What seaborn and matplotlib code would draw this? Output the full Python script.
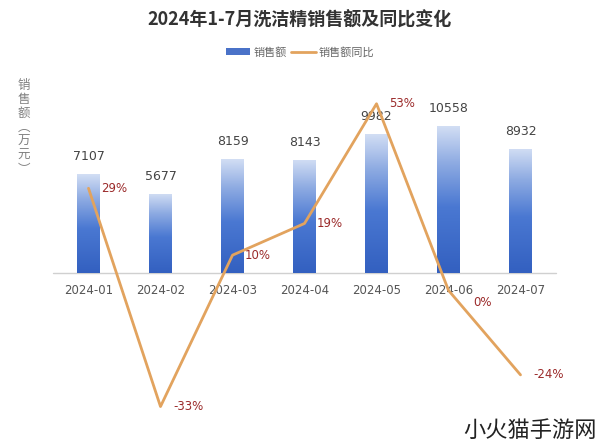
import numpy as np
import pandas as pd
import matplotlib
matplotlib.use("Agg")
import matplotlib.pyplot as plt
import seaborn as sns
from matplotlib.colors import LinearSegmentedColormap
from matplotlib.patches import Patch
from matplotlib.lines import Line2D

months = ["2024-01", "2024-02", "2024-03", "2024-04", "2024-05", "2024-06", "2024-07"]
sales = [7107, 5677, 8159, 8143, 9982, 10558, 8932]
yoy = [29, -33, 10, 19, 53, 0, -24]

sns.set_theme(style="white")
plt.rcParams['font.family'] = ['Noto Sans CJK SC', 'DejaVu Sans']

df = pd.DataFrame({"month": months, "sales": sales, "yoy": yoy})

fig = plt.figure(figsize=(6, 4.46), dpi=100)
ax = fig.add_axes([0.08, 0.06, 0.86, 0.75])
ax2 = ax.twinx()

sns.barplot(data=df, x="month", y="sales", ax=ax, width=0.31, color="#3a66c4", zorder=2)

# bars with vertical gradient (dark at the bottom, light on top)
cmap = LinearSegmentedColormap.from_list(
    "bg", [(0, "#3360c0"), (0.45, "#4a78d2"), (0.75, "#8eabe2"), (1, "#d2def4")])
grad = np.linspace(0, 1, 256).reshape(-1, 1)
for p in ax.patches:
    x0, y0 = p.get_x(), p.get_y()
    w, h = p.get_width(), p.get_height()
    p.set_facecolor("none")
    p.set_edgecolor("none")
    im = ax.imshow(grad, cmap=cmap, aspect="auto", origin="lower",
                   extent=[x0, x0 + w, y0, y0 + h], zorder=2)
    im.set_clip_path(p)

for i, v in enumerate(sales):
    ax.annotate(str(v), (i, v), xytext=(0, 8), textcoords="offset points",
                ha="center", va="bottom", fontsize=9, color="#444444", family="DejaVu Sans")
    ax.annotate(months[i], (i, 0), xytext=(0, -8), textcoords="offset points",
                ha="center", va="top", fontsize=8.5, color="#555555", family="DejaVu Sans")

ax.axhline(0, xmin=0.01, xmax=0.985, color="#d0d0d0", lw=1, zorder=1)
ax.set_xlim(-0.5625, 6.604)
ax.set_ylim(-10503, 13527)
ax.set_xlabel("")
ax.set_ylabel("")
ax.set_xticks([])
ax.set_yticks([])

sns.lineplot(data=df, x="month", y="yoy", ax=ax2, color="#e2a35e", lw=2, sort=False, zorder=3)
ax2.set_ylim(-36.6, 58.4)
ax2.set_yticks([])
ax2.set_ylabel("")
for i, v in enumerate(yoy):
    off = (18, -9) if v == 0 else (9, 0)
    ax2.annotate(f"{v}%", (i, v), xytext=off, textcoords="offset points",
                 ha="left", va="center", fontsize=8.5, color="#9b2a2a", family="DejaVu Sans")

for a in (ax, ax2):
    for s in a.spines.values():
        s.set_visible(False)
ax.set_zorder(1)
ax2.set_zorder(2)
ax.patch.set_visible(False)

fig.text(0.5, 0.955, "2024年1-7月洗洁精销售额及同比变化", ha="center", va="center",
         fontsize=13, fontweight="bold", color="#333333")

handles = [Patch(facecolor="#4a72c8", edgecolor="none"),
           Line2D([0], [0], color="#e2a35e", lw=2)]
fig.legend(handles, ["销售额", "销售额同比"], loc="center", bbox_to_anchor=(0.5, 0.883),
           ncol=2, frameon=False, fontsize=8, handlelength=2.2, handleheight=0.5,
           columnspacing=0.4, handletextpad=0.3, labelcolor="#666666")

fig.text(0.04, 0.715, "\n".join("销售额︵万元︶"), ha="center", va="center",
         fontsize=9, color="#808080", linespacing=1.1)

fig.text(0.995, 0.035, "小火猫手游网", ha="right", va="center", fontsize=16, color="#222222")

fig.savefig("out.png", dpi=100, facecolor="white")
